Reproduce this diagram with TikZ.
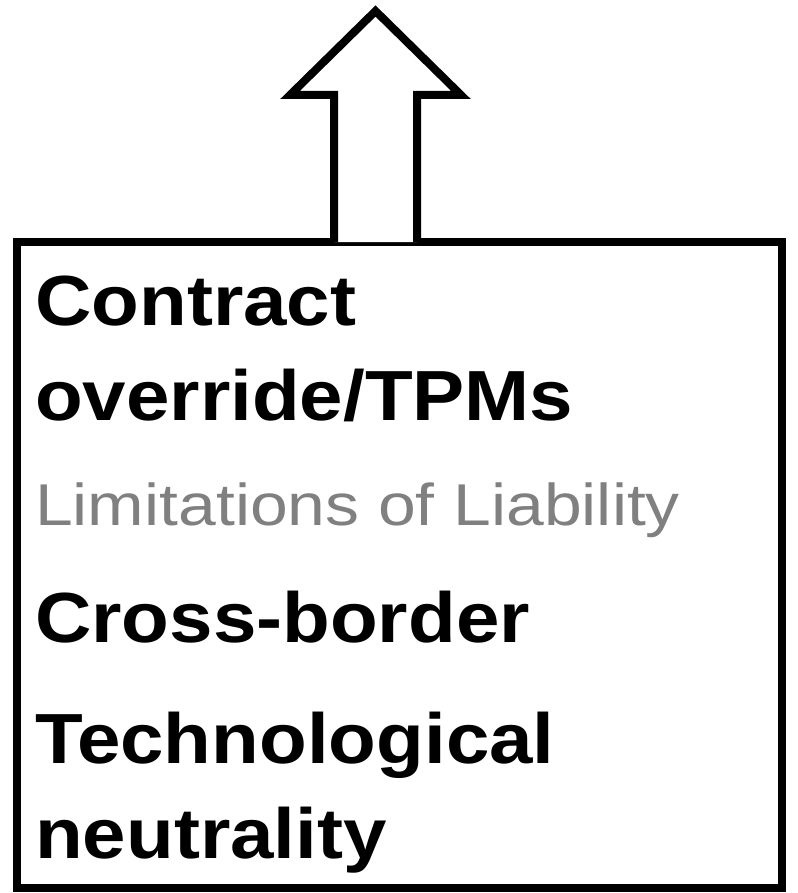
\documentclass[tikz,border=0pt]{standalone}
\usepackage{fontspec}
\setmainfont{Liberation Sans}
\newfontfamily\itemfont[FakeStretch=1.1]{Liberation Sans}
\newfontfamily\notefont[FakeStretch=1.15]{Liberation Sans}
\usepackage{tikz}
\usetikzlibrary{positioning}
\usetikzlibrary{calc}
\definecolor{notegray}{RGB}{128,128,128}

\begin{document}
\begin{tikzpicture}[x=1pt,y=1pt]
\tikzset{panel/.style={rectangle,minimum width=765pt,minimum height=646pt,draw,line width=8pt,inner sep=0pt}}
\tikzset{item/.style={anchor=base west,inner sep=0pt,font=\itemfont\bfseries\fontsize{71}{80}\selectfont}}
\tikzset{note/.style={anchor=base west,inner sep=0pt,text=notegray,font=\notefont\fontsize{59}{66}\selectfont}}
\tikzset{blockarrow/.style={draw,line width=8pt,line join=miter,fill=white}}
\useasboundingbox (0,0) rectangle (797,-893);
\node[panel] (box) at (399.5,-565) {};
% arrow sitting on the box
\coordinate (shaftL) at (334,-242);
\coordinate (shaftR) at (417,-242);
\draw[blockarrow] (shaftL) -- (334,-95) -- (290,-95) -- (375.5,-11) -- (461,-95) -- (417,-95) -- (shaftR);
\node[item] (contract) at (35,-325) {Contract};
\node[item] (override) at (35,-420) {override/TPMs};
\node[note] (limits) at (35,-525) {Limitations of Liability};
\node[item] (crossb) at (35,-642) {Cross-border};
\node[item] (techn) at (35,-763) {Technological};
\node[item] (neutral) at (35,-858) {neutrality};
\end{tikzpicture}
\end{document}
